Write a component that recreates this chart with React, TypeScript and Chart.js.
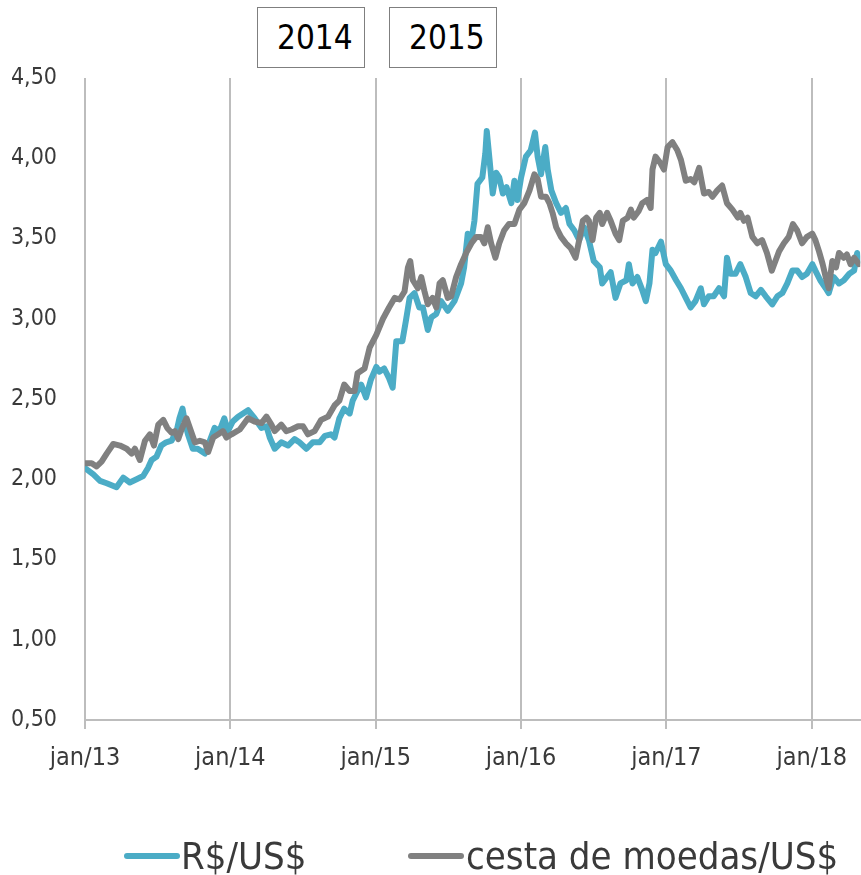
import React, { useEffect, useRef } from "react";
import { Chart, registerables } from "chart.js";
Chart.register(...registerables);

const FONT = "'DejaVu Sans Condensed', 'Liberation Sans Narrow', 'DejaVu Sans', sans-serif";

const tickMonths = [0, 12, 24, 36, 48, 60];
const tickLabels = ["jan/13", "jan/14", "jan/15", "jan/16", "jan/17", "jan/18"];
const seriesNames = ["R$/US$", "cesta de moedas/US$"];
const periodLabels = ["2014", "2015"];

// months since jan/13
const rsMonths = [
  0, 0.69, 1.24, 1.79, 2.6, 3.16, 3.7, 4.26, 4.8, 5.2, 5.5, 5.9, 6.3, 6.7, 7.15, 7.56, 7.8, 8.05, 8.24, 8.5,
  8.9, 9.3, 9.9, 10.3, 10.7, 11.1, 11.5, 11.8, 12.2, 12.64, 13.46, 14.0, 14.57, 14.98, 15.25, 15.66, 16.2,
  16.76, 17.3, 17.7, 18.28, 18.8, 19.37, 19.8, 20.3, 20.6, 21.0, 21.4, 21.85, 22.1, 22.5, 22.8, 23.2, 23.6,
  24.05, 24.3, 24.7, 25.1, 25.4, 25.7, 26.2, 26.5, 26.8, 27.2, 27.6, 27.9, 28.3, 28.6, 29.0, 29.4, 29.95,
  30.5, 31.05, 31.3, 31.6, 31.9, 32.15, 32.4, 32.8, 33.05, 33.17, 33.4, 33.66, 33.94, 34.2, 34.5, 34.8, 35.2,
  35.45, 35.7, 36.0, 36.4, 36.8, 37.15, 37.37, 37.65, 38.0, 38.2, 38.5, 38.9, 39.3, 39.7, 40.0, 40.4, 40.8,
  41.2, 41.6, 42.0, 42.5, 42.7, 43.1, 43.4, 43.8, 44.2, 44.7, 44.9, 45.2, 45.6, 46.0, 46.3, 46.6, 46.85, 47.1,
  47.55, 47.95, 48.36, 48.8, 49.2, 49.6, 50.0, 50.4, 50.84, 51.1, 51.5, 51.9, 52.35, 52.76, 53.0, 53.3, 53.7,
  54.1, 54.55, 54.96, 55.37, 55.8, 56.2, 56.74, 57.16, 57.57, 57.98, 58.4, 58.8, 59.2, 59.6, 60.05, 60.3,
  60.7, 61.15, 61.4, 61.8, 62.25, 62.65, 63.1, 63.5, 63.75, 63.9,
];
const rsValues = [
  2.07, 2.03, 1.99, 1.975, 1.95, 2.01, 1.98, 2.0, 2.02, 2.07, 2.12, 2.14, 2.21, 2.23, 2.24, 2.3, 2.38, 2.44, 2.36, 2.28,
  2.19, 2.19, 2.16, 2.24, 2.32, 2.3, 2.38, 2.3, 2.36, 2.39, 2.43, 2.38, 2.32, 2.33, 2.26, 2.19, 2.23,
  2.21, 2.25, 2.23, 2.19, 2.23, 2.23, 2.27, 2.28, 2.26, 2.38, 2.44, 2.41, 2.49, 2.55, 2.59, 2.51, 2.62,
  2.7, 2.67, 2.69, 2.63, 2.57, 2.86, 2.86, 2.99, 3.13, 3.16, 3.07, 3.07, 2.93, 3.01, 3.03, 3.11, 3.05,
  3.11, 3.22, 3.32, 3.53, 3.49, 3.61, 3.84, 3.88, 4.03, 4.17, 3.99, 3.78, 3.91, 3.88, 3.78, 3.82, 3.72,
  3.86, 3.74, 3.88, 4.01, 4.05, 4.16, 4.01, 3.9, 4.07, 3.93, 3.8, 3.72, 3.66, 3.69, 3.59, 3.55, 3.49,
  3.57, 3.49, 3.36, 3.32, 3.22, 3.26, 3.29, 3.13, 3.22, 3.24, 3.34, 3.22, 3.26, 3.18, 3.11, 3.22, 3.43, 3.41,
  3.48, 3.34, 3.3, 3.24, 3.19, 3.13, 3.07, 3.11, 3.19, 3.09, 3.14, 3.14, 3.19, 3.14, 3.38, 3.28, 3.28,
  3.34, 3.26, 3.16, 3.14, 3.18, 3.14, 3.09, 3.14, 3.16, 3.22, 3.3, 3.3, 3.26, 3.28, 3.34, 3.3,
  3.24, 3.19, 3.16, 3.26, 3.22, 3.24, 3.28, 3.3, 3.41, 3.36,
];

const cestaMonths = [
  0, 0.55, 0.96, 1.37, 1.79, 2.33, 2.89, 3.44, 3.85, 4.12, 4.53, 4.95, 5.36, 5.69, 6.05, 6.46, 6.79, 7.15, 7.42,
  7.7, 7.97, 8.38, 8.66, 9.07, 9.48, 9.89, 10.17, 10.58, 11.0, 11.4, 11.68, 12.1, 12.78, 13.46, 14.0, 14.57,
  14.98, 15.39, 15.66, 16.2, 16.62, 17.04, 17.59, 18.0, 18.4, 18.96, 19.5, 20.06, 20.6, 21.0, 21.4, 21.85,
  22.26, 22.5, 23.08, 23.5, 24.05, 24.6, 25.1, 25.56, 25.97, 26.38, 26.66, 26.85, 27.07, 27.48, 27.76, 28.03,
  28.3, 28.7, 29.0, 29.27, 29.54, 29.95, 30.23, 30.64, 31.05, 31.47, 31.9, 32.3, 32.7, 32.97, 33.25, 33.53,
  33.88, 34.2, 34.6, 35.0, 35.45, 35.86, 36.27, 36.7, 37.1, 37.37, 37.65, 38.07, 38.34, 38.6, 38.9, 39.3,
  39.7, 40.1, 40.5, 40.8, 41.1, 41.4, 41.6, 41.9, 42.2, 42.5, 42.7, 43.1, 43.4, 43.8, 44.1, 44.4, 44.8, 45.07,
  45.3, 45.7, 46.0, 46.4, 46.7, 46.85, 47.1, 47.5, 47.8, 48.1, 48.5, 48.9, 49.2, 49.6, 50.0, 50.3, 50.7, 51.1,
  51.5, 51.8, 52.2, 52.6, 53.0, 53.45, 53.9, 54.1, 54.4, 54.7, 55.1, 55.5, 55.9, 56.3, 56.7, 57.0, 57.3, 57.7,
  58.1, 58.45, 58.8, 59.2, 59.6, 60.05, 60.3, 60.6, 60.9, 61.15, 61.4, 61.7, 62.0, 62.25, 62.65, 62.9, 63.2,
  63.5, 63.9,
];
const cestaValues = [
  2.1, 2.1, 2.08, 2.11, 2.16, 2.22, 2.21, 2.19, 2.16, 2.19, 2.12, 2.24, 2.28, 2.21, 2.34, 2.37, 2.32, 2.29, 2.3,
  2.25, 2.31, 2.38, 2.32, 2.23, 2.24, 2.23, 2.17, 2.26, 2.28, 2.3, 2.26, 2.28, 2.31, 2.38, 2.36, 2.35,
  2.39, 2.34, 2.3, 2.34, 2.3, 2.31, 2.33, 2.33, 2.28, 2.3, 2.37, 2.39, 2.46, 2.49, 2.59, 2.55,
  2.55, 2.66, 2.69, 2.82, 2.9, 3.0, 3.07, 3.13, 3.12, 3.17, 3.32, 3.36, 3.24, 3.19, 3.26, 3.17,
  3.09, 3.13, 3.07, 3.22, 3.24, 3.13, 3.14, 3.26, 3.34, 3.41, 3.47, 3.51, 3.51, 3.47, 3.57, 3.47,
  3.38, 3.47, 3.55, 3.59, 3.59, 3.68, 3.72, 3.8, 3.9, 3.87, 3.76, 3.76, 3.72, 3.66, 3.57, 3.51,
  3.47, 3.44, 3.38, 3.49, 3.61, 3.63, 3.61, 3.49, 3.63, 3.66, 3.59, 3.66, 3.61, 3.53, 3.49, 3.61, 3.63, 3.68,
  3.63, 3.67, 3.72, 3.74, 3.69, 3.93, 4.01, 3.97, 3.93, 4.07, 4.1, 4.05, 3.99, 3.86, 3.87, 3.85, 3.94, 3.78,
  3.79, 3.76, 3.8, 3.83, 3.72, 3.68, 3.63, 3.66, 3.61, 3.63, 3.51, 3.47, 3.49, 3.41, 3.3, 3.36, 3.42, 3.47,
  3.51, 3.59, 3.55, 3.47, 3.51, 3.53, 3.49, 3.42, 3.34, 3.26, 3.19, 3.36, 3.32, 3.41, 3.38, 3.4, 3.34,
  3.38, 3.34,
];

const BLUE = "#4BACC6";
const GRAY = "#808080";
const GRID = "#BDBDBD";
const TEXT = "#3a3a3a";

export default function App() {
  const ref = useRef<HTMLCanvasElement | null>(null);

  useEffect(() => {
    if (!ref.current) return;
    const chart = new Chart(ref.current, {
      type: "line",
      data: {
        datasets: [
          {
            label: seriesNames[1],
            data: cestaMonths.map((m, i) => ({ x: m, y: cestaValues[i] })),
            borderColor: GRAY,
            backgroundColor: GRAY,
            borderWidth: 6,
            pointRadius: 0,
            tension: 0,
            borderJoinStyle: "round",
            borderCapStyle: "round",
          },
          {
            label: seriesNames[0],
            data: rsMonths.map((m, i) => ({ x: m, y: rsValues[i] })),
            borderColor: BLUE,
            backgroundColor: BLUE,
            borderWidth: 6,
            pointRadius: 0,
            tension: 0,
            borderJoinStyle: "round",
            borderCapStyle: "round",
          },
        ],
      },
      options: {
        animation: false,
        responsive: false,
        maintainAspectRatio: false,
        layout: { padding: { top: 78, right: 0, bottom: 88, left: 0 } },
        plugins: { legend: { display: false }, tooltip: { enabled: false } },
        scales: {
          x: {
            type: "linear",
            min: 0,
            max: 64,
            afterBuildTicks: (s: any) => {
              s.ticks = tickMonths.map((v) => ({ value: v }));
            },
            ticks: {
              autoSkip: false,
              maxRotation: 0,
              padding: 14,
              color: TEXT,
              font: { family: FONT, size: 25 },
              callback: (v: any) => {
                const i = tickMonths.indexOf(Number(v));
                return i >= 0 ? tickLabels[i] : "";
              },
            },
            grid: { color: GRID, lineWidth: 2, drawTicks: true, tickLength: 9 },
            border: { color: GRID, width: 2 },
          },
          y: {
            min: 0.5,
            max: 4.5,
            afterFit: (s: any) => {
              s.width = 85;
            },
            ticks: {
              stepSize: 0.5,
              padding: 28,
              color: TEXT,
              font: { family: FONT, size: 23 },
              callback: (v: any) => Number(v).toFixed(2).replace(".", ","),
            },
            grid: { display: false, drawTicks: false },
            border: { display: false },
          },
        },
      },
    });
    return () => chart.destroy();
  }, []);

  const boxStyle = (left: number): React.CSSProperties => ({
    position: "absolute",
    left,
    top: 7,
    width: 108,
    height: 61,
    boxSizing: "border-box",
    border: "1.5px solid #7f7f7f",
    fontFamily: FONT,
    fontSize: 33,
    color: "#000",
    display: "flex",
    alignItems: "center",
    paddingLeft: 19,
    background: "#fff",
  });

  const legendLine = (left: number, color: string): React.CSSProperties => ({
    position: "absolute",
    left,
    top: 853,
    width: 56,
    height: 6,
    borderRadius: 3,
    background: color,
  });

  const legendText = (left: number): React.CSSProperties => ({
    position: "absolute",
    left,
    top: 834,
    fontFamily: FONT,
    fontSize: 38,
    lineHeight: "44px",
    color: TEXT,
    whiteSpace: "nowrap",
  });

  return (
    <div style={{ position: "absolute", left: 0, top: 0, width: 861, height: 875, background: "#fff", overflow: "hidden" }}>
      <canvas ref={ref} width={861} height={875} style={{ display: "block" }} />
      <div style={boxStyle(257)}>{periodLabels[0]}</div>
      <div style={boxStyle(389)}>{periodLabels[1]}</div>
      <div style={legendLine(124, BLUE)} />
      <div style={legendText(181)}>{seriesNames[0]}</div>
      <div style={legendLine(408, GRAY)} />
      <div style={legendText(466)}>{seriesNames[1]}</div>
    </div>
  );
}
